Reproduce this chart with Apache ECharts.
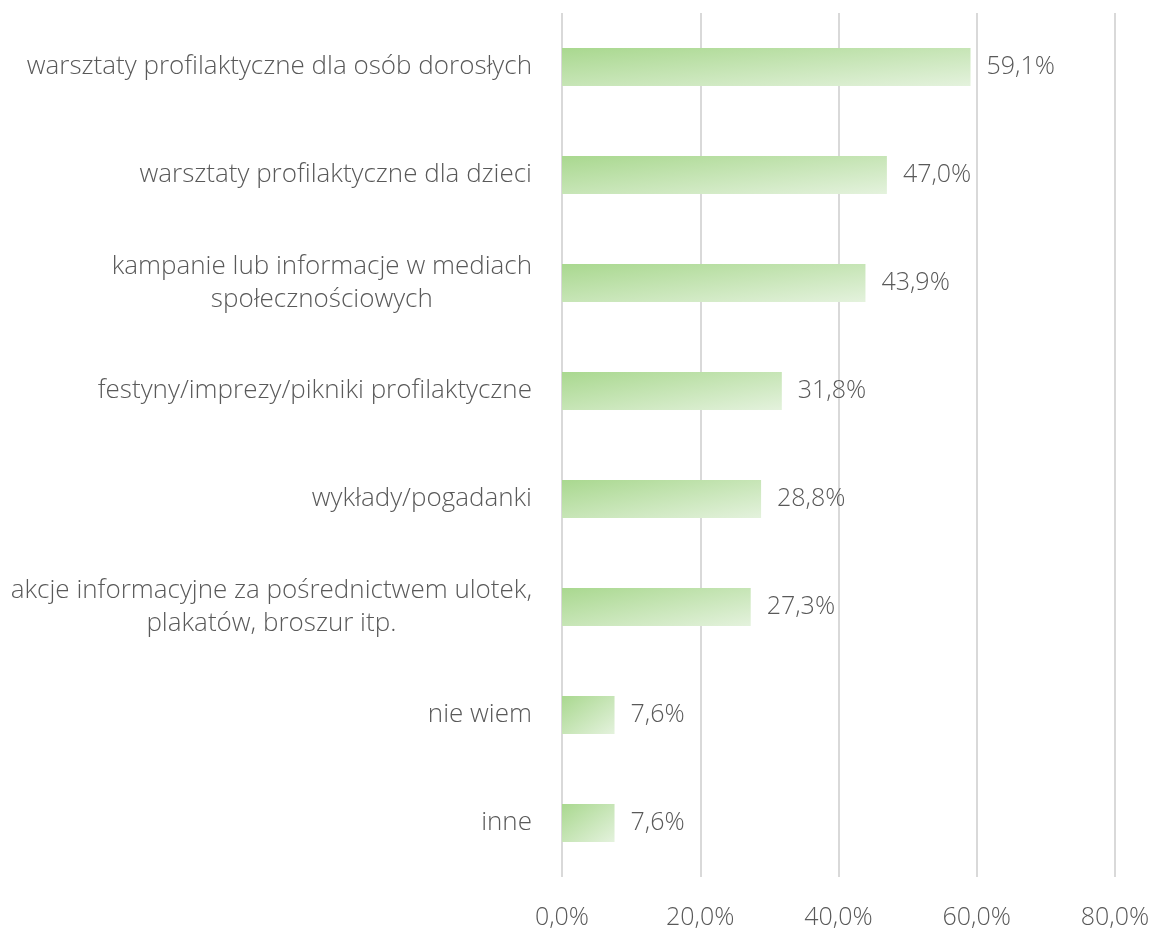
<!DOCTYPE html>
<html>
<head>
<meta charset="utf-8">
<script src="https://cdn.jsdelivr.net/npm/echarts@6/dist/echarts.min.js"></script>
<style>
  html, body { margin: 0; padding: 0; background: #fff; }
  #chart { width: 1154px; height: 931px; }
</style>
</head>
<body>
<div id="chart"></div>
<script>
const categories = [
  'warsztaty profilaktyczne dla osób dorosłych',
  'warsztaty profilaktyczne dla dzieci',
  'kampanie lub informacje w mediach\nspołecznościowych',
  'festyny/imprezy/pikniki profilaktyczne',
  'wykłady/pogadanki',
  'akcje informacyjne za pośrednictwem ulotek,\nplakatów, broszur itp.',
  'nie wiem',
  'inne'
];
const values = [59.1, 47.0, 43.9, 31.8, 28.8, 27.3, 7.6, 7.6];
const axisTicks = [0, 20, 40, 60, 80];

const pct = v => v.toFixed(1).replace('.', ',') + '%';
const font = '"Open Sans", "Segoe UI", sans-serif';
const barH = 38;

const chart = echarts.init(document.getElementById('chart'));

// gradient like Excel's "scaled" diagonal: isolines parallel to the other diagonal
function barFill(w) {
  const d = barH * barH + w * w;
  return new echarts.graphic.LinearGradient(0, 0, 2 * barH * barH / d, 2 * w * w / d, [
    { offset: 0, color: '#a9d88f' },
    { offset: 1, color: '#e4f2dd' }
  ]);
}

chart.setOption({
  animation: false,
  grid: { left: 562, right: 39, top: 13, bottom: 54, containLabel: false },
  xAxis: {
    type: 'value',
    min: axisTicks[0],
    max: axisTicks[axisTicks.length - 1],
    interval: 20,
    axisLine: { show: false },
    axisTick: { show: false },
    splitLine: { lineStyle: { color: '#d9d9d9', width: 2 } },
    axisLabel: {
      formatter: pct, color: '#595959', fontSize: 25, fontFamily: font, fontWeight: 300, margin: 28
    }
  },
  yAxis: {
    type: 'category',
    data: categories,
    inverse: true,
    axisLine: { show: false },
    axisTick: { show: false },
    axisLabel: {
      margin: 30,
      color: '#595959',
      fontSize: 26,
      fontFamily: font,
      fontWeight: 300,
      lineHeight: 33,
      formatter: v => v.split('\n').map(s => '{c|' + s + '}').join('\n'),
      rich: { c: { align: 'center', color: '#595959', fontSize: 26, fontFamily: font, fontWeight: 300, lineHeight: 33 } }
    }
  },
  series: [{
    type: 'bar',
    data: values,
    barWidth: barH,
    itemStyle: { color: '#b8dea3' },
    label: {
      show: true,
      position: 'right',
      distance: 16,
      formatter: p => pct(p.value),
      color: '#595959',
      fontSize: 25,
      fontFamily: font,
      fontWeight: 300
    }
  }]
});

// now that the scale exists, give each bar its own gradient
const x0 = chart.convertToPixel({ xAxisIndex: 0 }, 0);
chart.setOption({
  series: [{
    data: values.map(v => ({
      value: v,
      itemStyle: { color: barFill(chart.convertToPixel({ xAxisIndex: 0 }, v) - x0) }
    }))
  }]
});
</script>
</body>
</html>
